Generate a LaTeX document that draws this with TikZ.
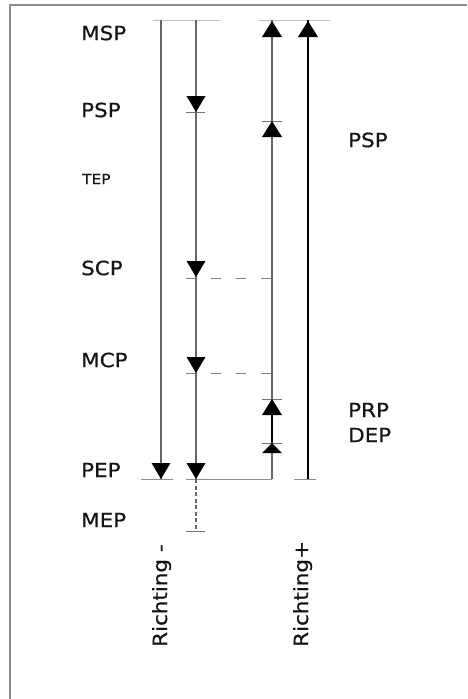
\documentclass[tikz,border=0pt]{standalone}
\usepackage{fontspec}
\setmainfont{DejaVu Sans}[FakeStretch=1.1, FakeBold=0.6]
\begin{document}
\begin{tikzpicture}[x=1pt,y=-1pt,
  frame/.style={draw=black!45, line width=1.6pt},
  rail/.style={draw=black!60, line width=1.3pt},
  blackrail/.style={draw=black, line width=1.1pt},
  tick/.style={draw=black!55, line width=0.8pt},
  guide/.style={draw=black!25, line width=0.8pt},
  base/.style={draw=black!45, line width=0.8pt},
  dashguide/.style={draw=black!50, line width=0.9pt, dash pattern=on 10pt off 15pt},
  dashstub/.style={draw=black!60, line width=1.3pt, dash pattern=on 4pt off 2.5pt},
  lbl/.style={anchor=west, inner sep=0pt, text=black!92, font=\fontsize{19.5}{22}\selectfont},
  small/.style={anchor=west, inner sep=0pt, text=black!92, font=\fontsize{14}{16}\selectfont},
  vlbl/.style={rotate=90, anchor=base west, inner sep=0pt, text=black!92, font=\fontsize{19.5}{22}\selectfont},
  pics/down/.style={code={\fill[black] (-9.5,-16) -- (9.5,-16) -- (0,0) -- cycle;}},
  pics/up/.style={code={\fill[black] (-10,16) -- (10,16) -- (0,0) -- cycle;}},
  pics/upflat/.style={code={\fill[black] (-10,10) -- (10,10) -- (0,0) -- cycle;}}
]
\useasboundingbox (0,0) rectangle (467,699);

% outer frame (left and top edges)
\coordinate (fbl) at (10,699);
\coordinate (ftl) at (10,5);
\coordinate (ftr) at (467,5);
\draw[frame] (fbl) -- (ftl) -- (ftr);

% rail end points
\coordinate (a1) at (161,20);  \coordinate (b1) at (161,479);
\coordinate (a2) at (196,20);  \coordinate (b2) at (196,479);
\coordinate (c2) at (196,531);
\coordinate (a3) at (272,20);  \coordinate (b3) at (272,479);
\coordinate (a4) at (308,20);  \coordinate (b4) at (308,479);

% top and bottom reference lines
\coordinate (t1) at (153,20); \coordinate (t2) at (220,20);
\coordinate (t3) at (258,20); \coordinate (t4) at (330,20);
\draw[guide] (t1) -- (t2);
\draw[guide] (t3) -- (t4);
\coordinate (p1) at (141,479); \coordinate (p2) at (173,479);
\coordinate (p3) at (186,479);
\coordinate (p4) at (294,479); \coordinate (p5) at (316,479);
\draw[base] (p1) -- (p2);
\draw[base] (p3) -- (b3);
\draw[base] (p4) -- (p5);

% dashed level lines
\coordinate (s1) at (186,278); \coordinate (s2) at (280,278);
\coordinate (m1) at (186,373); \coordinate (m2) at (280,373);
\draw[dashguide] (s1) -- (s2);
\draw[dashguide] (m1) -- (m2);

% rails
\draw[rail] (a1) -- (b1);
\draw[rail] (a2) -- (b2);
\draw[dashstub] (b2) -- (c2);
\draw[rail] (a3) -- (b3);
\draw[blackrail] (272,415) -- (272,443);
\draw[blackrail] (a4) -- (b4);

% ticks
\draw[tick] (186,112) -- (205,112);
\draw[tick] (186,531) -- (205,531);
\draw[tick] (262,121) -- (282,121);
\draw[tick] (262,399) -- (282,399);
\draw[tick] (262,443) -- (282,443);

% arrowheads, direction minus
\pic at (b1) {down};
\pic at (196,112) {down};
\pic at (196,277) {down};
\pic at (196,373) {down};
\pic at (b2) {down};

% arrowheads, direction plus
\pic at (272,21) {up};
\pic at (308,21) {up};
\pic at (272,121) {up};
\pic at (272,399) {up};
\pic at (272,443) {upflat};

% labels
\node[lbl] (msp) at (81,33) {MSP};
\node[lbl] (psp) at (81,110) {PSP};
\node[small] (tep) at (82,179) {TEP};
\node[lbl] (scp) at (81,268) {SCP};
\node[lbl] (mcp) at (81,360) {MCP};
\node[lbl] (pep) at (81,470) {PEP};
\node[lbl] (mep) at (81,520) {MEP};
\node[lbl] (psp2) at (348,140) {PSP};
\node[lbl] (prp) at (348,410) {PRP};
\node[lbl] (dep) at (348,435) {DEP};

\node[vlbl] (rm) at (167,647) {Richting -};
\node[vlbl] (rp) at (308,647) {Richting+};
\end{tikzpicture}
\end{document}
